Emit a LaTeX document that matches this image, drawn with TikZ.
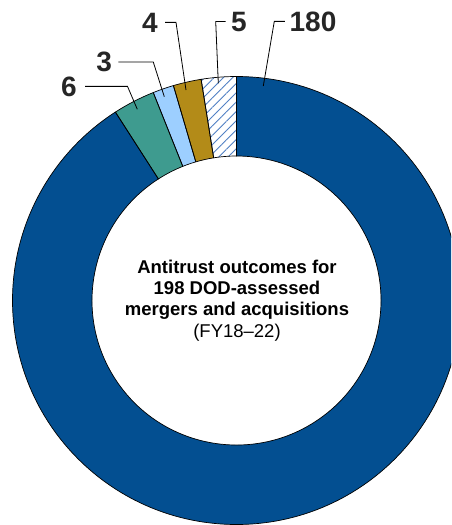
\documentclass[tikz,border=0pt]{standalone}
\usepackage{fontspec}
\setmainfont{Liberation Sans}
\usetikzlibrary{patterns.meta}
\definecolor{dblue}{HTML}{034F91}
\definecolor{teal2}{HTML}{3E9B8F}
\definecolor{lblue}{HTML}{9DCFFF}
\definecolor{gold2}{HTML}{B38B18}
\definecolor{hatchblue}{HTML}{5080C4}
\definecolor{labelgray}{HTML}{262626}
\begin{document}
\begin{tikzpicture}[x=1pt,y=1pt,
  seg/.style={draw=black,line width=0.7pt},
  leader/.style={draw=black,line width=0.8pt},
  num/.style={font=\fontsize{28}{30}\selectfont\bfseries,text=labelgray,inner sep=0pt,anchor=base}]
\useasboundingbox (0,0) rectangle (451,-525);
\clip (0,0) rectangle (451,-525);
\coordinate (C) at (236.5,-300.5);
\newcommand\ringseg[3]{%
  \path[#3] ([shift={(C)}]#1:224pt) arc[start angle=#1,end angle=#2,radius=224pt]
    -- ([shift={(C)}]#2:144.5pt) arc[start angle=#2,end angle=#1,radius=144.5pt] -- cycle;}
% fills
\ringseg{90}{-237.2727}{fill=dblue}
\ringseg{-237.2727}{-248.1818}{fill=teal2}
\ringseg{-248.1818}{-253.6364}{fill=lblue}
\ringseg{-253.6364}{-260.9091}{fill=gold2}
\ringseg{-260.9091}{-270}{fill=white}
\ringseg{-260.9091}{-270}{pattern={Lines[angle=45,distance=6.6pt,line width=0.9pt]},pattern color=hatchblue}
% outlines
\ringseg{90}{-237.2727}{seg}
\ringseg{-237.2727}{-248.1818}{seg}
\ringseg{-248.1818}{-253.6364}{seg}
\ringseg{-253.6364}{-260.9091}{seg}
\ringseg{-260.9091}{-270}{seg}
% centre title
\node (title) at (237,-300.4) [align=center,font=\fontsize{18.5}{21.3}\selectfont,text=black]
  {\textbf{Antitrust outcomes for}\\ \textbf{198 DOD-assessed}\\ \textbf{mergers and acquisitions}\\ (FY18--22)};
% labels
\node[num] (l180) at (313,-31) {180};
\node[num] (l5) at (239,-31) {5};
\node[num] (l4) at (150,-32) {4};
\node[num] (l3) at (104.2,-71.7) {3};
\node[num] (l6) at (69,-96) {6};
% leader points
\coordinate (r180) at (263.3,-86);   \coordinate (e180) at (274.3,0);
\coordinate (r5) at (218.3,-83.3);   \coordinate (e5) at (215.7,0);
\coordinate (r4) at (186,-90);       \coordinate (e4) at (176,0);
\coordinate (r3) at (164.3,-96.7);   \coordinate (e3) at (153.3,0);
\coordinate (r6) at (137.3,-109.3);  \coordinate (e6) at (127.5,0);
\draw[leader] (r180) -- (e180 |- l180.west) -- ([xshift=-4.6pt]l180.west);
\draw[leader] (r5) -- (e5 |- l5.west) -- ([xshift=-5.5pt]l5.west);
\draw[leader] (r4) -- (e4 |- l4.east) -- ([xshift=7.2pt]l4.east);
\draw[leader] (r3) -- (e3 |- l3.east) -- ([xshift=6.3pt]l3.east);
\draw[leader] (r6) -- (e6 |- l6.east) -- ([xshift=8.2pt]l6.east);
\end{tikzpicture}
\end{document}
